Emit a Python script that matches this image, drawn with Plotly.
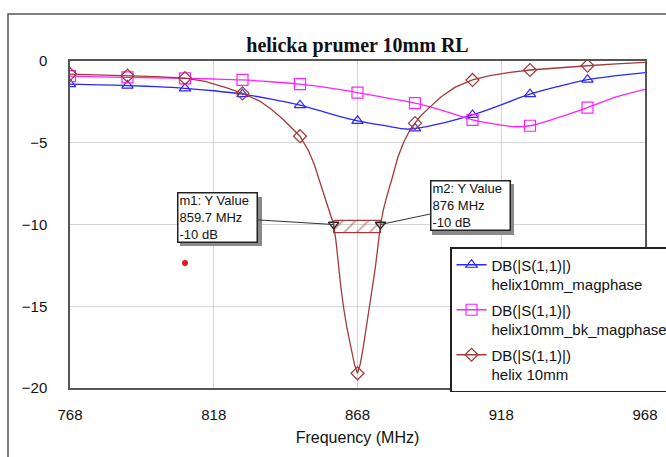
import plotly.graph_objects as go

# ---------------- data ----------------
freq_blue = [768, 778, 788, 798, 808, 818, 828, 838, 848, 858, 868, 878, 885, 888,
             898, 908, 918, 928, 938, 948, 958, 968]
db_blue = [-1.42, -1.46, -1.50, -1.57, -1.67, -1.82, -2.03, -2.33, -2.70, -3.20, -3.66,
           -3.97, -4.16, -4.12, -3.78, -3.30, -2.68, -2.03, -1.55, -1.14, -0.90, -0.71]

freq_mag = [768, 778, 788, 798, 808, 818, 828, 838, 848, 858, 868, 878, 888, 898,
            908, 918, 923, 928, 938, 948, 958, 968]
db_mag = [-0.93, -0.97, -1.00, -1.03, -1.06, -1.10, -1.16, -1.27, -1.42, -1.65, -1.93,
          -2.25, -2.58, -3.05, -3.60, -3.92, -4.02, -3.96, -3.45, -2.85, -2.20, -1.73]

freq_brown = [768, 778, 788, 798, 808, 815, 822, 828, 834, 838, 842, 845, 848, 851,
              853, 855, 857, 858.5, 859.7, 860.5, 861.3, 862.2, 863.1, 864.3, 865.7,
              867, 868, 869, 870, 871.2, 872.3, 873.3, 874.3, 875.2, 876, 877, 878,
              880, 882, 884, 886, 888, 890, 893, 897, 902, 908, 914, 920, 928, 938,
              948, 958, 968]
db_brown = [-0.80, -0.85, -0.90, -0.95, -1.05, -1.25, -1.62, -1.98, -2.45, -2.95,
            -3.55, -4.05, -4.60, -5.50, -6.35, -7.45, -8.60, -9.35, -10.0, -11.0,
            -12.5, -13.8, -15.0, -16.3, -17.5, -18.6, -19.1, -18.5, -17.5, -16.2,
            -15.0, -13.7, -12.5, -11.2, -10.0, -9.1, -8.4, -7.2, -5.9, -5.0, -4.3,
            -3.8, -3.35, -2.85, -2.2, -1.6, -1.16, -0.90, -0.72, -0.55, -0.40, -0.29,
            -0.17, -0.08]

marker_freqs = [768, 788, 808, 828, 848, 868, 888, 908, 928, 948]

m1_freq, m2_freq, m_level = 859.7, 876, -10
red_dot_freq, red_dot_db = 808, -12.35

x_ticks = [768, 818, 868, 918, 968]
y_ticks = [0, -5, -10, -15, -20]

legend_names = ["DB(|S(1,1)|)<br>helix10mm_magphase",
                "DB(|S(1,1)|)<br>helix10mm_bk_magphase",
                "DB(|S(1,1)|)<br>helix 10mm"]

# ---------------- layout geometry (pixels, screenshot coords) ----------------
W, H = 666, 457
PL, PR, PT, PB = 70, 645, 61, 388


def px(p):
    return (p - PL) / (PR - PL)


def py(p):
    return (PB - p) / (PB - PT)


BLUE = "#2828ff"
MAG = "#ff22ff"
BROWN = "#a33a3a"
FONT = "Liberation Sans, Arial, sans-serif"

fig = go.Figure()

series = [
    (freq_blue, db_blue, BLUE, "triangle-up-open", 10, "spline"),
    (freq_mag, db_mag, MAG, "square-open", 11, "spline"),
    (freq_brown, db_brown, BROWN, "diamond-open", 10, "linear"),
]

for i, ((fx, fy, col, sym, msz, shape), name) in enumerate(zip(series, legend_names)):
    fig.add_trace(go.Scatter(x=fx, y=fy, mode="lines", showlegend=False,
                             line=dict(color=col, width=1.3, shape=shape),
                             hoverinfo="skip"))
    mx = [f for f in fx if f in marker_freqs]
    my = [v for f, v in zip(fx, fy) if f in marker_freqs]
    fig.add_trace(go.Scatter(x=mx, y=my, mode="markers", showlegend=False,
                             marker=dict(symbol=sym, size=msz, color=col,
                                         line=dict(width=1.2, color=col))))
    fig.add_trace(go.Scatter(x=[None], y=[None], mode="lines+markers", name=name,
                             legendgroup=f"g{i}",
                             line=dict(color=col, width=1.3),
                             marker=dict(symbol=sym, size=msz, color=col,
                                         line=dict(width=1.2, color=col))))

# hatched marker band between m1 and m2
fig.add_trace(go.Scatter(
    x=[m1_freq, m2_freq, m2_freq, m1_freq, m1_freq],
    y=[m_level + 0.25, m_level + 0.25, m_level - 0.5, m_level - 0.5, m_level + 0.25],
    mode="lines", fill="toself", showlegend=False,
    line=dict(color=BROWN, width=1.2),
    fillcolor="rgba(0,0,0,0)",
    fillpattern=dict(shape="/", fgcolor=BROWN, bgcolor="rgba(255,255,255,0)",
                     size=9, solidity=0.2)))

fig.add_trace(go.Scatter(x=[m1_freq, m2_freq], y=[m_level, m_level], mode="markers",
                         showlegend=False,
                         marker=dict(symbol="triangle-down-open", size=9, color="#222",
                                     line=dict(width=1.3, color="#222"))))

fig.add_trace(go.Scatter(x=[red_dot_freq], y=[red_dot_db], mode="markers",
                         showlegend=False, marker=dict(size=6, color="#e8141c")))

shapes = [
    # outer frame
    dict(type="rect", xref="paper", yref="paper", x0=px(8), x1=px(900), y0=py(700), y1=py(14),
         line=dict(color="#555", width=1.5), layer="below"),
    # legend shadow
    dict(type="rect", xref="paper", yref="paper", x0=px(455), x1=px(900), y0=py(389), y1=py(252),
         line=dict(width=0), fillcolor="#8a8a8a", layer="above"),
    # annotation shadows
    dict(type="rect", xref="paper", yref="paper", x0=px(180), x1=px(262), y0=py(246), y1=py(197),
         line=dict(width=0), fillcolor="#8a8a8a", layer="above"),
    dict(type="rect", xref="paper", yref="paper", x0=px(432), x1=px(514), y0=py(235), y1=py(184),
         line=dict(width=0), fillcolor="#8a8a8a", layer="above"),
]

annotations = [
    dict(x=m1_freq, y=m_level, xref="x", yref="y",
         text=f"m1: Y Value<br>{m1_freq} MHz<br>{m_level} dB",
         showarrow=True, arrowhead=0, arrowwidth=1, arrowcolor="#333",
         ax=-116, ay=-7, align="left", width=76, height=46,
         bgcolor="white", bordercolor="#222", borderwidth=1.5, borderpad=1,
         font=dict(family=FONT, size=13, color="#111")),
    dict(x=m2_freq, y=m_level, xref="x", yref="y",
         text=f"m2: Y Value<br>{m2_freq} MHz<br>{m_level} dB",
         showarrow=True, arrowhead=0, arrowwidth=1, arrowcolor="#333",
         ax=90, ay=-19, align="left", width=76, height=46,
         bgcolor="white", bordercolor="#222", borderwidth=1.5, borderpad=1,
         font=dict(family=FONT, size=13, color="#111")),
]

fig.update_layout(
    width=W, height=H,
    margin=dict(l=PL, r=W - PR, t=PT, b=H - PB, autoexpand=False),
    paper_bgcolor="white", plot_bgcolor="white",
    title=dict(text="<b>helicka prumer 10mm RL</b>", x=0.5, xref="paper",
               y=1 - 45 / H, yanchor="middle", yref="container",
               font=dict(family="Liberation Serif, Times New Roman, serif", size=20,
                         color="#111")),
    xaxis=dict(range=[768, 968], tickvals=x_ticks, showgrid=True, gridcolor="#d4d4d4",
               gridwidth=1, zeroline=False, showline=True, mirror=True,
               linecolor="#555", linewidth=1.5, ticks="", ticklabelstandoff=12,
               tickfont=dict(family=FONT, size=15, color="#111"),
               title=dict(text="Frequency (MHz)", standoff=10,
                          font=dict(family=FONT, size=16, color="#111"))),
    yaxis=dict(range=[-20, 0], tickvals=y_ticks, showgrid=True, gridcolor="#d4d4d4",
               gridwidth=1, zeroline=False, showline=True, mirror=True,
               linecolor="#555", linewidth=1.5, ticks="", ticklabelstandoff=18,
               tickfont=dict(family=FONT, size=15, color="#111")),
    legend=dict(x=px(450), y=py(247), xanchor="left", yanchor="top",
                bgcolor="white", bordercolor="#222", borderwidth=1.5,
                font=dict(family=FONT, size=15, color="#111"),
                valign="top", tracegroupgap=3, itemwidth=30),
    shapes=shapes,
    annotations=annotations,
)

fig.write_html("out.html",
               config={"displayModeBar": False},
               post_script="document.body.style.margin='0px';"
                           "document.body.style.overflow='hidden';")
